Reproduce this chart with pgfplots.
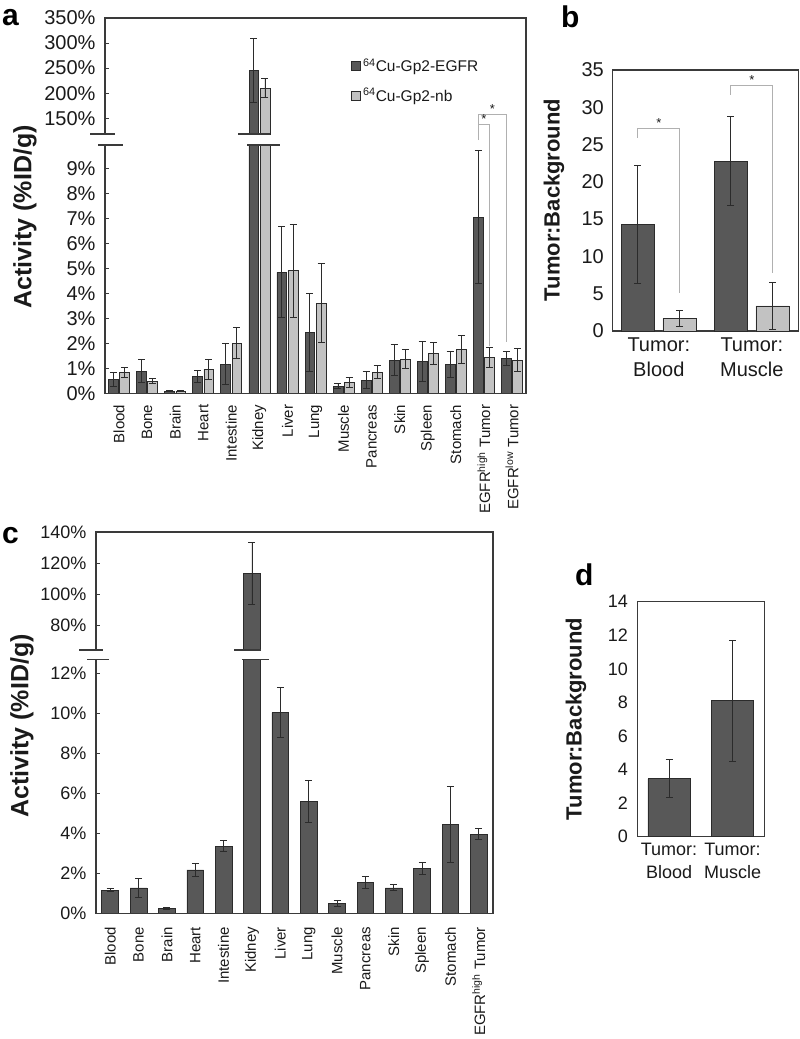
\documentclass[border=0pt]{standalone}
\usepackage{pgfplots}
\pgfplotsset{compat=1.18}
\usepackage{pgfplotstable}
\usepackage{fontspec}
\setmainfont{Liberation Sans}

\definecolor{darkbar}{HTML}{585858}
\definecolor{lightbar}{HTML}{C2C2C2}
\definecolor{edge}{HTML}{2B2B2B}
\definecolor{axcol}{HTML}{3A3A3A}
\definecolor{txt}{HTML}{1A1A1A}
\definecolor{brk}{HTML}{B0B0B0}

% Panel a: 64Cu-Gp2-EGFR
\pgfplotstableread{
x y e
0 0.56 0.28
1 0.89 0.47
2 0.08 0.02
3 0.69 0.24
4 1.17 0.83
5 246 64
6 4.84 1.82
7 2.43 1.55
8 0.29 0.11
9 0.53 0.33
10 1.33 0.63
11 1.28 0.80
12 1.16 0.53
13 7.04 2.66
14 1.40 0.27
}\aEGFR
% Panel a: 64Cu-Gp2-nb
\pgfplotstableread{
x y e
0 0.83 0.21
1 0.48 0.10
2 0.08 0.02
3 0.97 0.40
4 2.01 0.63
5 210 19
6 4.90 1.86
7 3.61 1.58
8 0.43 0.21
9 0.85 0.27
10 1.37 0.39
11 1.59 0.44
12 1.76 0.57
13 1.43 0.41
14 1.33 0.46
}\aNB
% Panel b
\pgfplotstableread{
x y e
0 14.25 7.9
1 22.76 5.95
}\bEGFR
\pgfplotstableread{
x y e
0 1.70 1.08
1 3.36 3.10
}\bNB
% Panel c
\pgfplotstableread{
x y e
0 1.17 0.06
1 1.28 0.47
2 0.27 0.05
3 2.18 0.32
4 3.37 0.28
5 113.7 19.8
6 10.05 1.25
7 5.62 1.05
8 0.50 0.13
9 1.55 0.32
10 1.28 0.15
11 2.25 0.32
12 4.45 1.90
13 3.97 0.28
}\cData
% Panel d
\pgfplotstableread{
x y e
0 3.45 1.13
1 8.10 3.60
}\dData

\pgfplotsset{
  panel/.style={scale only axis, clip mode=individual,
    tick style={axcol, line width=0.8bp}, major tick length=4bp,
    tick align=inside, ytick pos=left, xtick style={draw=none},
    /pgf/number format/assume math mode=true,
    yticklabel style={text=txt}, xticklabel style={text=txt}},
  bars/.style={draw=edge, line width=0.7bp,
    error bars/y dir=both, error bars/y explicit,
    error bars/error bar style={line width=0.9bp, edge},
    error bars/error mark options={rotate=90, mark size=3.5bp, line width=0.9bp, edge}},
}

\begin{document}
\begin{tikzpicture}
\useasboundingbox (0,0) rectangle (800bp,-1039bp);

% ---------------- Panel a, upper ----------------
\begin{axis}[panel, at={(105bp,-18bp)}, anchor=north west, width=421bp, height=116bp,
  ybar=1.4bp, bar width=9.8bp,
  axis line style={draw=none},
  xmin=-0.5, xmax=14.5, ymin=118.5, ymax=350, xtick=\empty,
  ytick={150,200,250,300,350}, yticklabels={150\%,200\%,250\%,300\%,350\%},
  yticklabel style={font=\fontsize{20bp}{24bp}\selectfont}, yticklabel shift=6bp,
  legend style={at={(axis description cs:0.585,0.665)}, anchor=north west, draw=none, fill=none,
    inner sep=0pt, font=\fontsize{15.5bp}{18bp}\selectfont, row sep=11bp, cells={anchor=west}, text=txt},
  legend image code/.code={\draw[#1, line width=0.7bp] (0bp,-4.5bp) rectangle (9bp,4.5bp);},
]
\addplot[bars, fill=darkbar, restrict y to domain=100:500] table[x=x,y=y,y error=e]{\aEGFR};
\addlegendentry{\textsuperscript{64}Cu-Gp2-EGFR}
\addplot[bars, fill=lightbar, restrict y to domain=100:500] table[x=x,y=y,y error=e]{\aNB};
\addlegendentry{\textsuperscript{64}Cu-Gp2-nb}
\end{axis}

% ---------------- Panel a, lower ----------------
\begin{axis}[panel, at={(105bp,-145bp)}, anchor=north west, width=421bp, height=248.3bp,
  ybar=1.4bp, bar width=9.8bp,
  axis line style={draw=none},
  xmin=-0.5, xmax=14.5, ymin=0, ymax=9.93,
  xtick={0,...,14},
  xticklabels={Blood,Bone,Brain,Heart,Intestine,Kidney,Liver,Lung,Muscle,Pancreas,Skin,Spleen,Stomach,EGFR\textsuperscript{high} Tumor,EGFR\textsuperscript{low} Tumor},
  xticklabel style={rotate=90, anchor=east, font=\fontsize{15bp}{18bp}\selectfont}, xticklabel shift=4bp,
  ytick={0,1,2,3,4,5,6,7,8,9}, yticklabels={0\%,1\%,2\%,3\%,4\%,5\%,6\%,7\%,8\%,9\%},
  yticklabel style={font=\fontsize{20bp}{24bp}\selectfont}, yticklabel shift=6bp,
]
\addplot[bars, fill=darkbar] table[x=x,y=y,y error=e]{\aEGFR};
\addplot[bars, fill=lightbar] table[x=x,y=y,y error=e]{\aNB};
% significance brackets
\draw[brk, line width=1bp] (axis cs:12.8,10.13) -- (axis cs:12.8,11.13) -- (axis cs:13.8,11.13) -- (axis cs:13.8,2.06);
\draw[brk, line width=1bp] (axis cs:12.8,10.73) -- (axis cs:13.2,10.73) -- (axis cs:13.2,1.9);
\node[font=\fontsize{13bp}{13bp}\selectfont, text=txt, anchor=south, inner sep=1bp] at (axis cs:13.0,10.73) {*};
\node[font=\fontsize{13bp}{13bp}\selectfont, text=txt, anchor=south, inner sep=1bp] at (axis cs:13.3,11.13) {*};
\end{axis}

% frame and break marks, panel a
\draw[axcol, line width=1.2bp] (105bp,-134bp) -- (105bp,-18bp) -- (526bp,-18bp) -- (526bp,-393.3bp) -- (105bp,-393.3bp) -- (105bp,-145bp);
\draw[axcol, line width=1.2bp] (90bp,-134bp) -- (115bp,-134bp);
\draw[axcol, line width=1.2bp] (98bp,-145bp) -- (123bp,-145bp);
\draw[axcol, line width=1.2bp] (238bp,-134bp) -- (270bp,-134bp);
\draw[axcol, line width=1.2bp] (247bp,-145bp) -- (280bp,-145bp);

% ---------------- Panel b ----------------
\begin{axis}[panel, at={(612.3bp,-70bp)}, anchor=north west, width=186bp, height=261bp,
  ybar=8.3bp, bar width=33.5bp,
  axis line style={axcol, line width=1.2bp}, major tick length=0pt,
  xmin=-0.5, xmax=1.5, ymin=0, ymax=35,
  xtick={0,1}, xticklabels={{Tumor:\\Blood},{Tumor:\\Muscle}},
  xticklabel style={align=center, font=\fontsize{20bp}{25bp}\selectfont}, xticklabel shift=3bp,
  ytick={0,5,...,35},
  yticklabel style={font=\fontsize{20bp}{24bp}\selectfont}, yticklabel shift=5bp,
]
\addplot[bars, fill=darkbar] table[x=x,y=y,y error=e]{\bEGFR};
\addplot[bars, fill=lightbar] table[x=x,y=y,y error=e]{\bNB};
\draw[brk, line width=1bp] (axis cs:-0.225,25.9) -- (axis cs:-0.225,27.1) -- (axis cs:0.225,27.1) -- (axis cs:0.225,5.07);
\draw[brk, line width=1bp] (axis cs:0.775,31.7) -- (axis cs:0.775,32.9) -- (axis cs:1.225,32.9) -- (axis cs:1.225,7.76);
\node[font=\fontsize{13bp}{13bp}\selectfont, text=txt, anchor=south, inner sep=1bp] at (axis cs:0,27.1) {*};
\node[font=\fontsize{13bp}{13bp}\selectfont, text=txt, anchor=south, inner sep=1bp] at (axis cs:1,32.9) {*};
\end{axis}

% ---------------- Panel c, upper ----------------
\begin{axis}[panel, at={(96bp,-532bp)}, anchor=north west, width=397bp, height=118bp,
  ybar, bar width=16.7bp,
  axis line style={draw=none},
  xmin=-0.5, xmax=13.5, ymin=64.4, ymax=140, xtick=\empty,
  ytick={80,100,120,140}, yticklabels={80\%,100\%,120\%,140\%},
  yticklabel style={font=\fontsize{18bp}{22bp}\selectfont}, yticklabel shift=6bp,
]
\addplot[bars, fill=darkbar, restrict y to domain=50:500] table[x=x,y=y,y error=e]{\cData};
\end{axis}

% ---------------- Panel c, lower ----------------
\begin{axis}[panel, at={(96bp,-659.3bp)}, anchor=north west, width=397bp, height=254.2bp,
  ybar, bar width=16.7bp,
  axis line style={draw=none},
  xmin=-0.5, xmax=13.5, ymin=0, ymax=12.71,
  xtick={0,...,13},
  xticklabels={Blood,Bone,Brain,Heart,Intestine,Kidney,Liver,Lung,Muscle,Pancreas,Skin,Spleen,Stomach,EGFR\textsuperscript{high} Tumor},
  xticklabel style={rotate=90, anchor=east, font=\fontsize{15bp}{18bp}\selectfont}, xticklabel shift=6bp,
  ytick={0,2,4,6,8,10,12}, yticklabels={0\%,2\%,4\%,6\%,8\%,10\%,12\%},
  yticklabel style={font=\fontsize{18bp}{22bp}\selectfont}, yticklabel shift=6bp,
]
\addplot[bars, fill=darkbar] table[x=x,y=y,y error=e]{\cData};
\end{axis}

\draw[axcol, line width=1.2bp] (96bp,-650bp) -- (96bp,-532bp) -- (493bp,-532bp) -- (493bp,-913.5bp) -- (96bp,-913.5bp) -- (96bp,-659.3bp);
\draw[axcol, line width=1.2bp] (79bp,-650bp) -- (103bp,-650bp);
\draw[axcol, line width=1.2bp] (87bp,-659.3bp) -- (109bp,-659.3bp);
\draw[axcol, line width=1.2bp] (234bp,-650bp) -- (261bp,-650bp);
\draw[axcol, line width=1.2bp] (242bp,-659.3bp) -- (269bp,-659.3bp);

% ---------------- Panel d ----------------
\begin{axis}[panel, at={(637.3bp,-601.7bp)}, anchor=north west, width=127bp, height=235bp,
  ybar, bar width=42.3bp,
  axis line style={axcol, line width=1.2bp}, major tick length=0pt,
  xmin=-0.5, xmax=1.5, ymin=0, ymax=14,
  xtick={0,1}, xticklabels={{Tumor:\\Blood},{Tumor:\\Muscle}},
  xticklabel style={align=center, font=\fontsize{18bp}{23bp}\selectfont}, xticklabel shift=3bp,
  ytick={0,2,...,14},
  yticklabel style={font=\fontsize{18bp}{22bp}\selectfont}, yticklabel shift=6bp,
]
\addplot[bars, fill=darkbar] table[x=x,y=y,y error=e]{\dData};
\end{axis}

% axis titles and panel letters
\node[rotate=90, font=\bfseries\fontsize{25bp}{30bp}\selectfont, text=txt] at (25bp,-217bp) {Activity (\%ID/g)};
\node[rotate=90, font=\bfseries\fontsize{25bp}{30bp}\selectfont, text=txt] at (22bp,-726bp) {Activity (\%ID/g)};
\node[rotate=90, font=\bfseries\fontsize{22bp}{26bp}\selectfont, text=txt] at (554bp,-200bp) {Tumor:Background};
\node[rotate=90, font=\bfseries\fontsize{22bp}{26bp}\selectfont, text=txt] at (576bp,-719bp) {Tumor:Background};
\node[anchor=base west, inner sep=0pt, font=\bfseries\fontsize{30bp}{30bp}\selectfont] at (2bp,-25bp) {a};
\node[anchor=base west, inner sep=0pt, font=\bfseries\fontsize{30bp}{30bp}\selectfont] at (561bp,-27bp) {b};
\node[anchor=base west, inner sep=0pt, font=\bfseries\fontsize{30bp}{30bp}\selectfont] at (2bp,-543bp) {c};
\node[anchor=base west, inner sep=0pt, font=\bfseries\fontsize{30bp}{30bp}\selectfont] at (575bp,-585bp) {d};
\end{tikzpicture}
\end{document}
